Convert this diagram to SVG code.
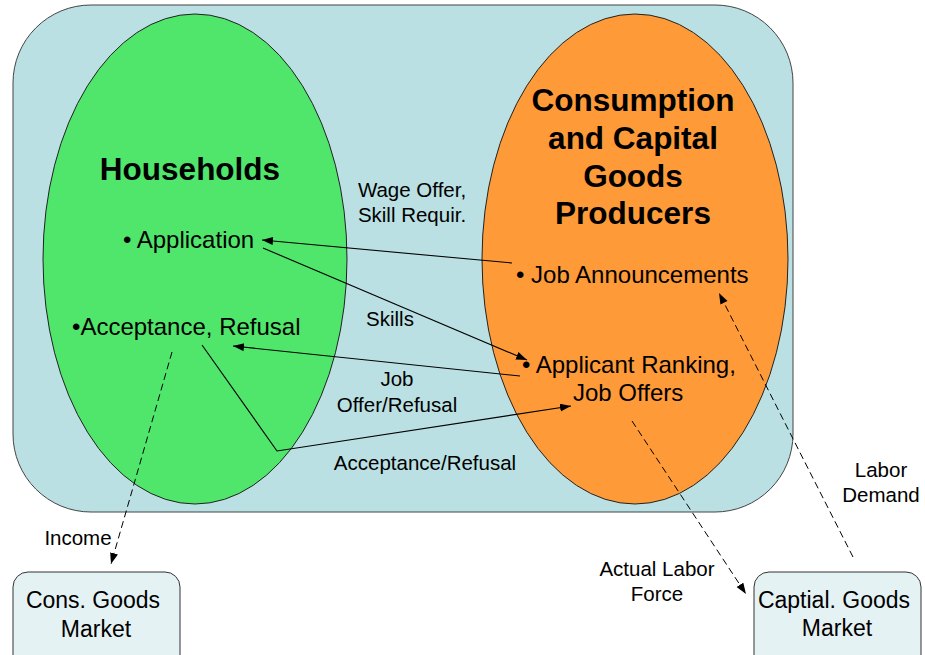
<svg xmlns="http://www.w3.org/2000/svg" width="925" height="655" viewBox="0 0 925 655">
  <style>
    text { font-family: "Liberation Sans", Arial, sans-serif; fill: #000; }
    .head { font-size: 31.5px; font-weight: bold; text-anchor: middle; }
    .item { font-size: 24px; }
    .lbl { font-size: 20.5px; text-anchor: middle; }
    .box { fill: #E5F2F4; stroke: #333; stroke-width: 1; }
    .flow { fill: none; stroke: #000; stroke-width: 1.1; }
    .dash { fill: none; stroke: #000; stroke-width: 1; stroke-dasharray: 7 4; }
  </style>
  <defs>
    <marker id="head" markerUnits="userSpaceOnUse" markerWidth="12" markerHeight="10" refX="11" refY="4" orient="auto">
      <path d="M0,0 L11,4 L0,8 Z" fill="#000"/>
    </marker>
  </defs>

  <rect width="925" height="655" fill="#fff"/>

  <!-- market container -->
  <g id="labor-market">
    <rect x="13" y="5" width="780" height="507" rx="78" ry="78" fill="#BAE0E3" stroke="#444" stroke-width="1"/>
  </g>

  <g id="households">
    <ellipse cx="195" cy="259" rx="152" ry="245" fill="#50E56B" stroke="#222" stroke-width="1"/>
    <text class="head" x="190" y="180">Households</text>
    <text class="item" x="123" y="248">• Application</text>
    <text class="item" x="72" y="335">•Acceptance, Refusal</text>
  </g>

  <g id="producers">
    <ellipse cx="635" cy="259" rx="153" ry="245" fill="#FE9A37" stroke="#222" stroke-width="1"/>
    <text class="head" x="633" y="111">Consumption</text>
    <text class="head" x="633" y="149">and Capital</text>
    <text class="head" x="633" y="187">Goods</text>
    <text class="head" x="633" y="224">Producers</text>
    <text class="item" x="516" y="283">• Job Announcements</text>
    <text class="item" x="522" y="373">• Applicant Ranking,</text>
    <text class="item" x="573" y="401">Job Offers</text>
  </g>

  <g id="cons-goods-market">
    <rect class="box" x="13" y="572" width="167" height="100" rx="15" ry="15"/>
    <text class="lbl" x="93" y="608" style="font-size:23px">Cons. Goods</text>
    <text class="lbl" x="96" y="637" style="font-size:23px">Market</text>
  </g>

  <g id="capital-goods-market">
    <rect class="box" x="754" y="572" width="167" height="100" rx="15" ry="15"/>
    <text class="lbl" x="834" y="608" style="font-size:23px">Captial. Goods</text>
    <text class="lbl" x="837" y="636" style="font-size:23px">Market</text>
  </g>

  <!-- flows between households, producers and markets -->
  <g id="connectors">
    <line class="flow" x1="512" y1="263" x2="262" y2="240" marker-end="url(#head)"/>
    <line class="flow" x1="263" y1="248" x2="527" y2="360" marker-end="url(#head)"/>
    <line class="flow" x1="520" y1="376" x2="233" y2="346" marker-end="url(#head)"/>
    <polyline class="flow" points="202,345 277,451 571,406" marker-end="url(#head)"/>
    <line class="dash" x1="172" y1="352" x2="111" y2="564" marker-end="url(#head)"/>
    <line class="dash" x1="632" y1="421" x2="746" y2="594" marker-end="url(#head)"/>
    <line class="dash" x1="853" y1="557" x2="719" y2="293" marker-end="url(#head)"/>

    <text class="lbl" x="412" y="197">Wage Offer,</text>
    <text class="lbl" x="412" y="222">Skill Requir.</text>
    <text class="lbl" x="390" y="326">Skills</text>
    <text class="lbl" x="397" y="386">Job</text>
    <text class="lbl" x="397" y="412">Offer/Refusal</text>
    <text class="lbl" x="425" y="470">Acceptance/Refusal</text>
    <text class="lbl" x="78" y="545">Income</text>
    <text class="lbl" x="657" y="576">Actual Labor</text>
    <text class="lbl" x="657" y="601">Force</text>
    <text class="lbl" x="881" y="477">Labor</text>
    <text class="lbl" x="881" y="502">Demand</text>
  </g>
</svg>
